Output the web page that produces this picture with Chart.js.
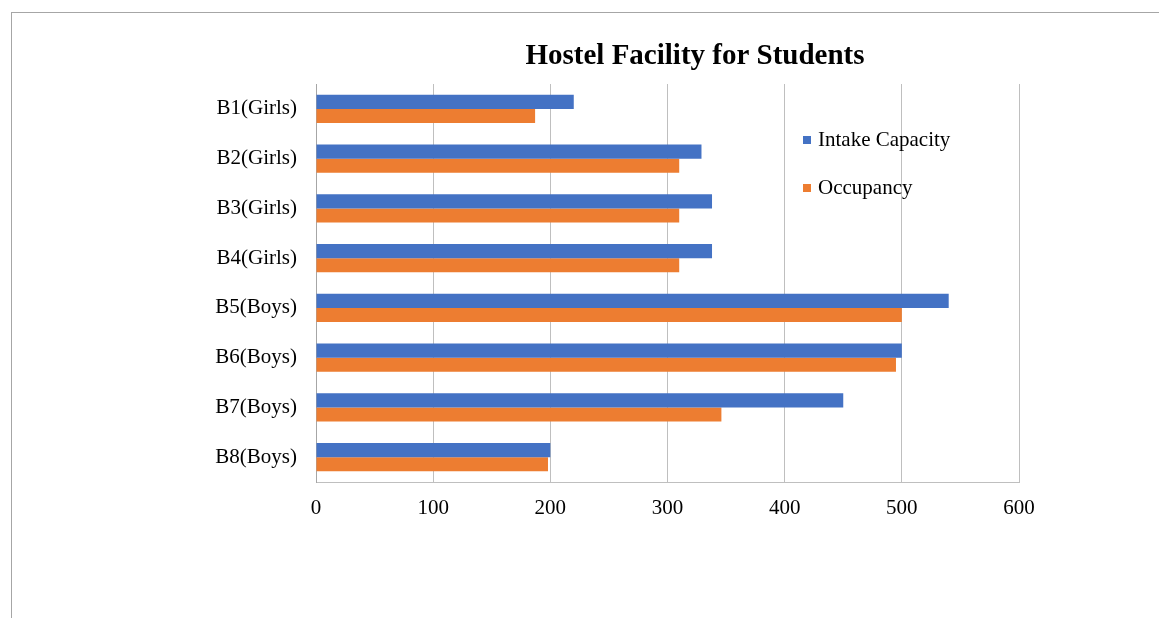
<!DOCTYPE html>
<html>
<head>
<meta charset="utf-8">
<script src="https://cdn.jsdelivr.net/npm/chart.js@4"></script>
<style>
  html, body { margin: 0; padding: 0; background: #fff; }
</style>
</head>
<body>
<canvas id="hostel" width="1159" height="618"></canvas>
<script>
const halls = ['B1(Girls)', 'B2(Girls)', 'B3(Girls)', 'B4(Girls)', 'B5(Boys)', 'B6(Boys)', 'B7(Boys)', 'B8(Boys)'];
const intake = [220, 329, 338, 338, 540, 500, 450, 200];
const occupancy = [187, 310, 310, 310, 500, 495, 346, 198];
const xTicks = [0, 100, 200, 300, 400, 500, 600];

const serif = "'Liberation Serif', 'Times New Roman', serif";

// frame + title + legend drawn by hand, like the original office chart
const decor = {
  id: 'decor',
  beforeDraw(chart) {
    const { ctx } = chart;
    ctx.save();
    ctx.strokeStyle = '#a6a6a6';
    ctx.lineWidth = 1;
    ctx.strokeRect(11.5, 12.5, 2000, 2000);
    ctx.restore();
  },
  afterDraw(chart) {
    const { ctx } = chart;
    ctx.save();
    ctx.fillStyle = '#000';
    ctx.textAlign = 'center';
    ctx.textBaseline = 'middle';
    ctx.font = 'bold 29px ' + serif;
    ctx.fillText('Hostel Facility for Students', 695, 57);

    ctx.textAlign = 'left';
    ctx.font = '21px ' + serif;
    chart.data.datasets.forEach((ds, i) => {
      const y = 140 + i * 48;
      ctx.fillStyle = ds.backgroundColor;
      ctx.fillRect(803, y - 4, 8, 8);
      ctx.fillStyle = '#000';
      ctx.fillText(ds.label, 818, y);
    });
    ctx.restore();
  }
};

new Chart(document.getElementById('hostel'), {
  type: 'bar',
  plugins: [decor],
  data: {
    labels: halls,
    datasets: [
      { label: 'Intake Capacity', data: intake, backgroundColor: '#4472C4' },
      { label: 'Occupancy', data: occupancy, backgroundColor: '#ED7D31' }
    ]
  },
  options: {
    indexAxis: 'y',
    responsive: false,
    animation: false,
    layout: { padding: { top: 84, right: 140, left: 0, bottom: 0 } },
    datasets: { bar: { categoryPercentage: 0.57, barPercentage: 1.0 } },
    plugins: {
      legend: { display: false },
      title: { display: false },
      tooltip: { enabled: false }
    },
    scales: {
      x: {
        min: 0,
        max: 600,
        afterBuildTicks(scale) { scale.ticks = xTicks.map(v => ({ value: v })); },
        afterFit(scale) { scale.height = 136; },
        grid: { color: '#bfbfbf', drawTicks: false },
        border: { color: '#bfbfbf' },
        ticks: { color: '#000', padding: 14, font: { family: serif, size: 21 } }
      },
      y: {
        afterFit(scale) { scale.width = 316; },
        grid: { display: false, drawTicks: false },
        border: { color: '#a6a6a6' },
        ticks: { color: '#000', padding: 19, font: { family: serif, size: 21 } }
      }
    }
  }
});
</script>
</body>
</html>
